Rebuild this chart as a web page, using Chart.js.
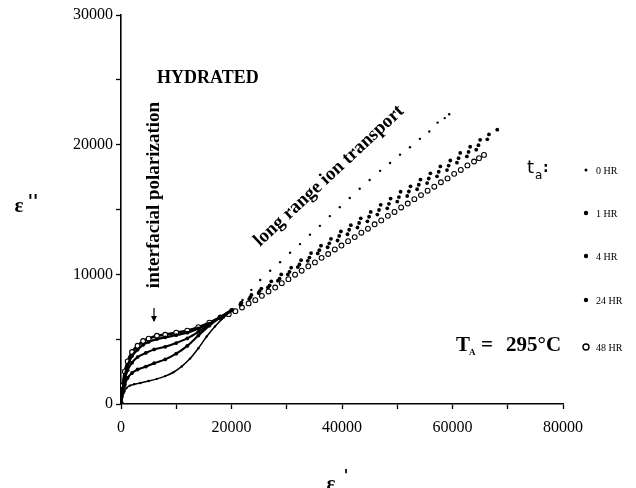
<!DOCTYPE html>
<html>
<head>
<meta charset="utf-8">
<script src="https://cdn.jsdelivr.net/npm/chart.js@4.4.0/dist/chart.umd.min.js"></script>
<style>
  html, body { margin: 0; padding: 0; background: #fff; }
  #wrap { width: 636px; height: 488px; }
</style>
</head>
<body>
<div id="wrap"><canvas id="grafico" width="636" height="488"></canvas></div>
<script>
// valores: [eps', eps'']
const seriesLabels = ['0 HR', '1 HR', '4 HR', '24 HR', '48 HR'];
const xTickLabels = [0, 20000, 40000, 60000, 80000];
const yTickLabels = [0, 10000, 20000, 30000];

const hr0 = [[0,0],[250,520],[600,960],[1000,1240],[1600,1420],[2400,1530],[3500,1620],[5000,1770],[6500,1940],[8000,2150],[9500,2450],[11000,2900],[12500,3500],[14000,4300],[15500,5200],[17000,5980],[18600,6680],[20300,7300],[22000,8020],[23600,8800],[25200,9560],[27000,10280],[28800,10940],[30600,11660],[32400,12330],[34200,13060],[36000,13740],[37800,14490],[39600,15180],[41400,15890],[43200,16600],[45000,17270],[46900,17980],[48700,18590],[50500,19230],[52300,19800],[54100,20450],[55800,21010],[57300,21700],[58600,22050],[59400,22350]];

const hr1 = [[0,0],[300,820],[700,1480],[1200,2010],[2000,2390],[3000,2660],[4500,2890],[6000,3150],[8000,3440],[10000,3880],[12000,4480],[14000,5280],[16000,6040],[18000,6700],[20000,7260],[21800,7820],[23600,8410],[25400,8900],[27200,9460],[29000,9990],[30800,10510],[32600,11090],[34400,11640],[36200,12210],[38000,12740],[39800,13310],[41600,13790],[43400,14320],[45200,14810],[47000,15360],[48800,15840],[50600,16370],[52400,16790],[54200,17310],[56000,17790],[57800,18320],[59600,18780],[61400,19360],[63200,19840],[65000,20370],[66600,20790],[68100,21160]];

const hr4 = [[0,0],[300,1010],[700,1880],[1200,2610],[2000,3190],[3000,3620],[4500,3940],[6000,4210],[8000,4410],[10000,4700],[12000,5060],[14000,5560],[16000,6140],[18000,6700],[20000,7240],[21700,7760],[23400,8240],[25100,8710],[26900,9140],[28700,9660],[30500,10190],[32300,10760],[34100,11290],[35900,11860],[37700,12390],[39500,12960],[41300,13440],[43100,13960],[44900,14440],[46700,14960],[48500,15440],[50300,15960],[52100,16390],[53900,16910],[55700,17390],[57500,17910],[59300,18390],[61100,18960],[62900,19440],[64700,19960],[66300,20410]];

const hr24 = [[0,0],[300,1190],[700,2210],[1200,2990],[2000,3710],[3000,4190],[4000,4560],[5000,4790],[6500,5010],[8000,5140],[10000,5310],[12000,5500],[14000,5830],[16000,6200],[18000,6700],[20000,7200],[21600,7660],[23200,8090],[24900,8560],[26600,8990],[28400,9510],[30200,9990],[32000,10560],[33800,11040],[35600,11610],[37400,12090],[39200,12610],[41000,13090],[42800,13610],[44600,14090],[46400,14610],[48200,15090],[50000,15610],[51800,16040],[53600,16560],[55400,17040],[57200,17560],[59000,18040],[60800,18610],[62600,19090],[64300,19610]];

const hr48 = [[0,0],[300,1400],[700,2510],[1200,3290],[2000,4010],[3000,4490],[4000,4860],[5000,5040],[6500,5260],[8000,5340],[10000,5500],[12000,5660],[14000,5930],[16000,6270],[18000,6680],[19500,6930],[20700,7160],[21900,7440],[23100,7760],[24300,8010],[25500,8340],[26700,8680],[27900,8980],[29100,9320],[30300,9630],[31500,9970],[32700,10280],[33900,10620],[35100,10920],[36300,11270],[37500,11570],[38700,11920],[39900,12220],[41100,12560],[42300,12870],[43500,13210],[44700,13520],[45900,13860],[47100,14160],[48300,14510],[49500,14810],[50700,15160],[51900,15460],[53100,15800],[54300,16110],[55500,16450],[56700,16760],[57900,17100],[59100,17400],[60300,17750],[61500,18050],[62700,18400],[63900,18700],[64800,18960],[65700,19210]];

const serif = '"Liberation Serif", "Times New Roman", serif';

// ate onde os pontos ficam tao juntos que viram uma linha continua
const fimLinha = 20500;
const segmento = { borderColor: ctx => ctx.p1.parsed.x <= fimLinha ? '#000' : 'rgba(0,0,0,0)' };

function serie(label, dados, raio, fundo, linha) {
  return {
    label: label,
    data: dados,
    showLine: true,
    borderColor: '#000',
    borderWidth: linha,
    tension: 0.3,
    segment: segmento,
    pointRadius: raio,
    pointBackgroundColor: fundo,
    pointBorderColor: '#000',
    pointBorderWidth: fundo === '#fff' ? 1.1 : 0,
    pointHoverRadius: raio
  };
}

const estilos = [
  [1.2, '#000', 1.5],
  [1.9, '#000', 2.1],
  [1.9, '#000', 2.1],
  [1.9, '#000', 2.4],
  [2.4, '#fff', 2.6]
];
const todos = [hr0, hr1, hr4, hr24, hr48];

// textos e legenda desenhados por cima
const anotacoes = {
  id: 'anotacoes',
  afterDraw(chart) {
    const c = chart.ctx;
    c.save();
    c.fillStyle = '#000';
    c.strokeStyle = '#000';
    c.textBaseline = 'middle';
    c.textAlign = 'left';

    c.font = 'bold 18px ' + serif;
    c.fillText('HYDRATED', 157, 78);

    c.save();
    c.translate(154, 195);
    c.rotate(-Math.PI / 2);
    c.textAlign = 'center';
    c.font = 'bold 19px ' + serif;
    c.fillText('interfacial polarization', 0, 0);
    c.restore();

    // seta
    c.lineWidth = 1.2;
    c.beginPath();
    c.moveTo(154, 308); c.lineTo(154, 321);
    c.stroke();
    c.beginPath();
    c.moveTo(151, 316); c.lineTo(154, 322); c.lineTo(157, 316);
    c.closePath(); c.fill();

    c.save();
    c.translate(329, 176);
    c.rotate(-0.75);
    c.textAlign = 'center';
    c.font = 'bold 19px ' + serif;
    c.fillText('long range ion transport', 0, 0);
    c.restore();

    // T_A = 295°C
    c.font = 'bold 21px ' + serif;
    c.fillText('T', 456, 346);
    c.font = 'bold 9px ' + serif;
    c.fillText('A', 469, 353);
    c.font = 'bold 21px ' + serif;
    c.fillText('=', 481, 346);
    c.fillText('295°C', 506, 346);

    // t_a:
    c.font = '18px "DejaVu Sans"';
    c.fillText('t', 527, 168);
    c.font = '12px "DejaVu Sans"';
    c.fillText('a', 535, 176);
    c.font = 'bold 14px "DejaVu Sans"';
    c.fillText(':', 543, 168);

    // legenda
    const ys = [170, 213, 256, 300, 347];
    chart.data.datasets.forEach((ds, i) => {
      c.beginPath();
      c.arc(586, ys[i], ds.pointRadius + (i === 4 ? 0.6 : 0.3), 0, Math.PI * 2);
      c.fillStyle = ds.pointBackgroundColor;
      c.fill();
      if (i === 4) { c.lineWidth = 1.4; c.stroke(); }
      c.fillStyle = '#000';
      c.font = '10px ' + serif;
      c.fillText(ds.label, 596, ys[i] + 1);
    });

    // eixos: eps'' e eps'
    c.font = 'bold 21px ' + serif;
    c.textAlign = 'center';
    c.fillText('ε', 19, 207);
    c.font = 'bold 17px "DejaVu Sans"';
    c.fillText("''", 33, 203);
    c.font = 'bold 21px ' + serif;
    c.fillText('ε', 331, 485);
    c.font = 'bold 15px "DejaVu Sans"';
    c.fillText("'", 346, 477);
    c.restore();
  }
};

const ctx = document.getElementById('grafico').getContext('2d');

const grafico = new Chart(ctx, {
  type: 'scatter',
  data: {
    datasets: todos.map((d, i) => serie(seriesLabels[i], d, estilos[i][0], estilos[i][1], estilos[i][2]))
  },
  options: {
    responsive: false,
    animation: false,
    events: [],
    layout: { padding: { top: 15, right: 73, left: 0, bottom: 0 } },
    plugins: {
      legend: { display: false },
      tooltip: { enabled: false }
    },
    scales: {
      x: {
        type: 'linear',
        min: 0,
        max: 80000,
        afterFit: s => { s.height = 84; },
        ticks: {
          stepSize: 10000,
          autoSkip: false,
          maxRotation: 0,
          padding: 9,
          color: '#000',
          font: { family: serif, size: 16 },
          callback: v => xTickLabels.includes(v) ? String(v) : ''
        },
        grid: { drawOnChartArea: false, tickLength: 5, color: '#000', tickWidth: 1.3 },
        border: { color: '#000', width: 1.6 }
      },
      y: {
        type: 'linear',
        min: 0,
        max: 30000,
        afterFit: s => { s.width = 121; },
        ticks: {
          stepSize: 5000,
          autoSkip: false,
          padding: 3,
          color: '#000',
          font: { family: serif, size: 16 },
          callback: v => yTickLabels.includes(v) ? String(v) : ''
        },
        grid: { drawOnChartArea: false, tickLength: 5, color: '#000', tickWidth: 1.3 },
        border: { color: '#000', width: 1.6 }
      }
    }
  },
  plugins: [anotacoes]
});
</script>
</body>
</html>
